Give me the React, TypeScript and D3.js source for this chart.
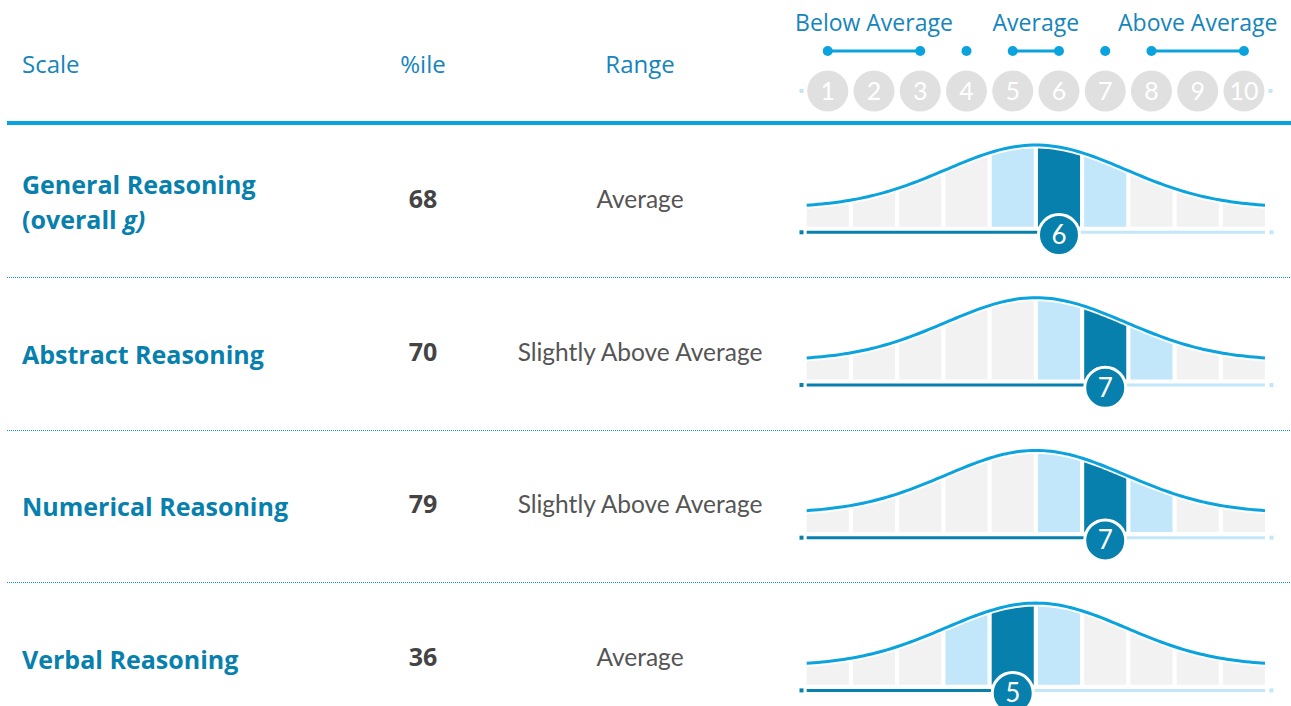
import React from "react";
import * as d3 from "d3";

const scaleNames = ["General Reasoning", "Abstract Reasoning", "Numerical Reasoning", "Verbal Reasoning"];
const percentiles = [68, 70, 79, 36];
const rangeLabels = ["Average", "Slightly Above Average", "Slightly Above Average", "Average"];
const stens = [6, 7, 7, 5];
const stenTicks = [1, 2, 3, 4, 5, 6, 7, 8, 9, 10];
const bandLabels = ["Below Average", "Average", "Above Average"];
const bandLabelCenters = [[1, 3], [5, 6], [8, 10]];
const bandGroups = [[1, 3], [4, 4], [5, 6], [7, 7], [8, 10]];
const headers = ["Scale", "%ile", "Range"];

const W = 1291;
const H = 706;
const ROW0 = 0;
const ROW_STEP = 152.7;

const BLUE_TEXT = "#1585bb";
const BRIGHT = "#0aa3dd";
const DARK = "#0880ad";
const LIGHT = "#c2e7fb";
const GRAY = "#f2f2f2";
const HEAD_CIRCLE = "#e0e0e0";

const x = d3.scaleBand<number>().domain(stenTicks).range([806.7, 1265]).paddingInner(0.09).paddingOuter(0);
const cx = (s: number) => (x(s) as number) + x.bandwidth() / 2;

const chartL = 806.7;
const chartR = 1265;
const mid = (chartL + chartR) / 2;
const sigma = 90;
// curve in row-local coordinates
const curveY = (px: number) => 207.7 - 62.7 * Math.exp(-((px - mid) ** 2) / (2 * sigma * sigma));
const BAR_BOTTOM = 226.7;
const LINE_Y = 232.3;
const BADGE_Y = 235;

const curveLine = d3
  .line<number>()
  .x((d) => d)
  .y((d) => curveY(d))
  .curve(d3.curveLinear);

const barArea = d3
  .area<number>()
  .x((d) => d)
  .y0(BAR_BOTTOM)
  .y1((d) => curveY(d) + 3.5);

const samples = (a: number, b: number, n: number) => d3.range(n + 1).map((i) => a + ((b - a) * i) / n);

const sans = "'Open Sans', 'Noto Sans', sans-serif";
const gill = "Lato, 'Open Sans', sans-serif";

function Row({ i }: { i: number }) {
  const ty = ROW0 + i * ROW_STEP;
  const sel = stens[i];
  const name = scaleNames[i];
  return (
    <g transform={`translate(0,${ty})`}>
      {i === 0 ? (
        <text x={22} y={195} fontFamily={sans} fontWeight={700} fontSize={25} fill={DARK}>
          <tspan x={22} y={194}>{name}</tspan>
          <tspan x={22} y={229}>(overall <tspan fontStyle="italic">g)</tspan></tspan>
        </text>
      ) : (
        <text x={22} y={211} fontFamily={sans} fontWeight={700} fontSize={25} fill={DARK}>
          {name}
        </text>
      )}
      <text x={423} y={208} textAnchor="middle" fontFamily={sans} fontWeight={700} fontSize={25} fill="#444">
        {percentiles[i]}
      </text>
      <text x={640} y={208} textAnchor="middle" fontFamily={gill} fontSize={24.5} fill="#555">
        {rangeLabels[i]}
      </text>
      {stenTicks.map((s) => {
        const x0 = x(s) as number;
        const x1 = x0 + x.bandwidth();
        const fill = s === sel ? DARK : Math.abs(s - sel) === 1 ? LIGHT : GRAY;
        return <path key={s} d={barArea(samples(x0, x1, 20)) as string} fill={fill} />;
      })}
      <path d={curveLine(samples(chartL, chartR, 120)) as string} fill="none" stroke={BRIGHT} strokeWidth={3} />
      <line x1={chartL} x2={cx(sel)} y1={LINE_Y} y2={LINE_Y} stroke={DARK} strokeWidth={3} />
      <line x1={cx(sel)} x2={chartR} y1={LINE_Y} y2={LINE_Y} stroke={LIGHT} strokeWidth={3} />
      <rect x={799.5} y={LINE_Y - 2} width={4} height={4} fill={DARK} />
      <rect x={1269.5} y={LINE_Y - 2} width={4} height={4} fill={LIGHT} />
      <circle cx={cx(sel)} cy={BADGE_Y} r={20.5} fill={DARK} stroke="#fff" strokeWidth={3} />
      <text x={cx(sel)} y={BADGE_Y + 9} textAnchor="middle" fontFamily={gill} fontSize={26} fill="#fff">
        {sel}
      </text>
    </g>
  );
}

export default function App() {
  const headerX = [22, 423, 640];
  const headerAnchor = ["start", "middle", "middle"];
  return (
    <svg width={W} height={H} style={{ position: "absolute", left: 0, top: 0, background: "#fff" }}>
      {headers.map((h, k) => (
        <text key={h} x={headerX[k]} y={73} textAnchor={headerAnchor[k] as any} fontFamily={sans} fontSize={24} fill={BLUE_TEXT}>
          {h}
        </text>
      ))}
      {bandLabels.map((b, k) => (
        <text
          key={b}
          x={(cx(bandLabelCenters[k][0]) + cx(bandLabelCenters[k][1])) / 2}
          y={31}
          textAnchor="middle"
          fontFamily={sans}
          fontSize={23}
          fill={BLUE_TEXT}
        >
          {b}
        </text>
      ))}
      {bandGroups.map((g, k) => (
        <g key={k}>
          {g[0] !== g[1] && (
            <line x1={cx(g[0])} x2={cx(g[1])} y1={51} y2={51} stroke={BRIGHT} strokeWidth={3} />
          )}
          <circle cx={cx(g[0])} cy={51} r={5} fill={BRIGHT} />
          {g[0] !== g[1] && <circle cx={cx(g[1])} cy={51} r={5} fill={BRIGHT} />}
        </g>
      ))}
      <rect x={799.5} y={89} width={4} height={4} fill={LIGHT} />
      <rect x={1268.5} y={89} width={4} height={4} fill={LIGHT} />
      {stenTicks.map((s) => (
        <g key={s}>
          <circle cx={cx(s)} cy={91} r={20.5} fill={HEAD_CIRCLE} />
          <text x={cx(s)} y={100} textAnchor="middle" fontFamily={gill} fontSize={25} fill="#fff">
            {s}
          </text>
        </g>
      ))}
      <rect x={7} y={121} width={W - 7} height={4} fill={BRIGHT} />
      {[0, 1, 2].map((k) => {
        const yy = Math.round(277 + k * ROW_STEP) + 0.5;
        return (
          <line
            key={k}
            x1={7}
            x2={W}
            y1={yy}
            y2={yy}
            stroke="#0a9ad6"
            strokeWidth={1}
            strokeDasharray="1,1"
            shapeRendering="crispEdges"
          />
        );
      })}
      {scaleNames.map((_, i) => (
        <Row key={i} i={i} />
      ))}
    </svg>
  );
}
